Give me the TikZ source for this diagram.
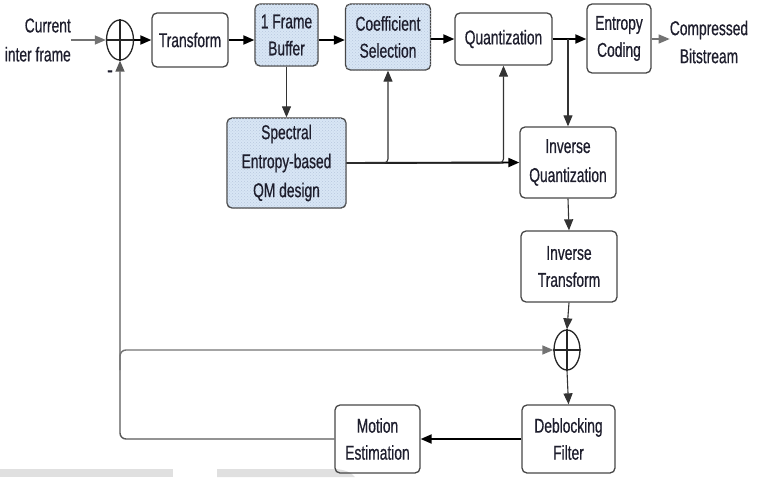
\documentclass[tikz,border=0pt]{standalone}
\usepackage{fontspec}
\setmainfont[FakeStretch=0.69,FakeBold=0.6]{Liberation Sans}
\usetikzlibrary{arrows.meta,shapes.geometric,calc,patterns}
\definecolor{qblue}{RGB}{216,230,245}
\definecolor{qdot}{RGB}{185,200,222}
\definecolor{boxline}{RGB}{70,70,70}
\definecolor{txt}{RGB}{30,30,45}
\tikzset{
  lbl/.style={font=\fontsize{20}{27}\selectfont, text=txt, align=center, inner sep=0pt},
  box/.style={lbl, draw=boxline, line width=1.3pt, rounded corners=5pt},
  bluebox/.style={box, fill=qblue, postaction={pattern=crosshatch dots, pattern color=qdot}},
  summer/.style={ellipse, draw=black!85, line width=1.3pt, inner sep=0pt, minimum width=27pt, minimum height=40pt},
  tip/.style={-{Triangle[length=11pt,width=9pt]}},
  thick arrow/.style={tip, draw=black, line width=1.9pt},
  thin arrow/.style={tip, draw=black!80, line width=1.1pt},
  grey arrow/.style={tip, draw=black!55, line width=1.4pt},
}
\begin{document}
\begin{tikzpicture}[x=1pt,y=-1pt]
\useasboundingbox (0,0) rectangle (761,477);
% light screenshot bars at the bottom
\fill[black!12] (0,469) rectangle (173,477);
\fill[black!12] (217,469) -- (333,469) .. controls (345,469) and (352,473) .. (355,477) -- (217,477) -- cycle;

% nodes
\node[lbl, align=right, anchor=east, font=\fontsize{20}{29}\selectfont] (in) at (71,40) {Current\\inter frame};
\node[summer] (s1) at (120,40) {};
\node[lbl, font=\fontsize{24}{24}\selectfont] (minus) at (110,74) {-};
\node[box, minimum width=76pt, minimum height=54pt] (tr) at (190,40) {Transform};
\node[bluebox, minimum width=63pt, minimum height=62pt] (buf) at (286.5,35) {1 Frame\\Buffer};
\node[bluebox, minimum width=85pt, minimum height=66pt] (coef) at (388,37) {Coefficient\\Selection};
\node[box, minimum width=97pt, minimum height=52pt] (quant) at (503.5,39) {Quantization};
\node[box, minimum width=64pt, minimum height=69pt] (ent) at (619,38.5) {Entropy\\Coding};
\node[lbl, font=\fontsize{20}{28}\selectfont] (out) at (709,42) {Compressed\\Bitstream};
\node[bluebox, minimum width=119pt, minimum height=90pt, font=\fontsize{20}{29}\selectfont] (qm) at (286.5,163) {Spectral\\Entropy-based\\QM design};
\node[box, minimum width=96pt, minimum height=71pt, font=\fontsize{20}{29}\selectfont] (iq) at (568,162.5) {Inverse\\Quantization};
\node[box, minimum width=96pt, minimum height=71pt] (it) at (569,266.5) {Inverse\\Transform};
\node[summer, minimum width=26pt] (s2) at (567,350) {};
\node[box, minimum width=93pt, minimum height=68pt] (df) at (568.5,439) {Deblocking\\Filter};
\node[box, minimum width=85pt, minimum height=68pt] (me) at (377.5,439) {Motion\\Estimation};

% crosses inside summers
\draw[black!85, line width=1.3pt] (s1.north) -- (s1.south) (s1.west) -- (s1.east);
\draw[black!85, line width=1.3pt] (s2.north) -- (s2.south) (s2.west) -- (s2.east);

% forward path
\draw[grey arrow] (in.east |- s1.west) -- (s1.west);
\draw[thick arrow] (s1.east) -- (tr.west);
\draw[thick arrow] (tr.east) -- (tr.east -| buf.west);
\draw[thick arrow] (buf.east |- tr.east) -- (coef.west |- tr.east);
\draw[thick arrow] (coef.east |- quant.west) -- (quant.west);
\draw[thick arrow] (quant.east) -- (ent.west |- quant.east);
\draw[grey arrow] (ent.east |- quant.east) -- (out.west |- quant.east);
\draw[thin arrow] (iq.north |- quant.east) -- (iq.north);

% QM design
\draw[thin arrow] (buf.south) -- (qm.north);
\draw[thick arrow] (qm.east) -- (iq.west);
\draw[thin arrow, rounded corners=4pt] (qm.east) -| (coef.south);
\draw[thin arrow, rounded corners=4pt] (qm.east) -| (quant.south);

% reconstruction path
\draw[thin arrow] (iq.south) -- (it.north);
\draw[thin arrow] (it.south) -- (s2.north);
\draw[thin arrow] (s2.south) -- (df.north);
\draw[thick arrow] (df.west) -- (me.east);

% feedback loop
\draw[grey arrow, draw=black!65, rounded corners=6pt] (me.west) -| (s1.south);
\draw[grey arrow, rounded corners=6pt] ($(s1.south |- s2.west)+(0,20)$) |- (s2.west);
\end{tikzpicture}
\end{document}
